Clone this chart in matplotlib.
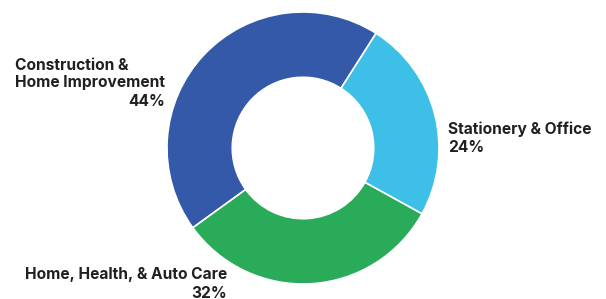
import matplotlib
matplotlib.use("Agg")
import matplotlib.pyplot as plt

# segment data, drawn counterclockwise from the top-right boundary
categories = ["Construction &\nHome Improvement", "Home, Health, & Auto Care", "Stationery & Office"]
shares     = [44, 32, 24]
colors     = ["#3359a8", "#2aab5a", "#3dbfe8"]

W, H = 606, 299
cx, cy, R = 303, 148, 136      # pixel centre / radius of the donut

fig = plt.figure(figsize=(W / 100, H / 100), dpi=100)
ax = fig.add_axes([0, 0, 1, 1])
ax.pie(shares, colors=colors, startangle=57.5, counterclock=True,
       radius=1.0, wedgeprops=dict(width=0.48, edgecolor="white", linewidth=1.2))
ax.set_xlim(-cx / R, (W - cx) / R)
ax.set_ylim(-(H - cy) / R, cy / R)
ax.set_aspect("auto")
ax.axis("off")

txt = dict(fontfamily="Inter", fontweight="bold", fontsize=11.2, color="#231f20", va="center")

def put(x, y, s, ha):
    fig.text(x / W, 1 - y / H, s, ha=ha, **txt)

# Construction & Home Improvement
put(15, 65, "Construction &", "left")
put(15, 83, "Home Improvement", "left")
put(165, 102, f"{shares[0]}%", "right")

# Stationery & Office
put(448, 129, "Stationery & Office", "left")
put(448, 147, f"{shares[2]}%", "left")

# Home, Health, & Auto Care
put(227, 275, "Home, Health, & Auto Care", "right")
put(227, 293, f"{shares[1]}%", "right")

fig.savefig("out.png", dpi=100)
